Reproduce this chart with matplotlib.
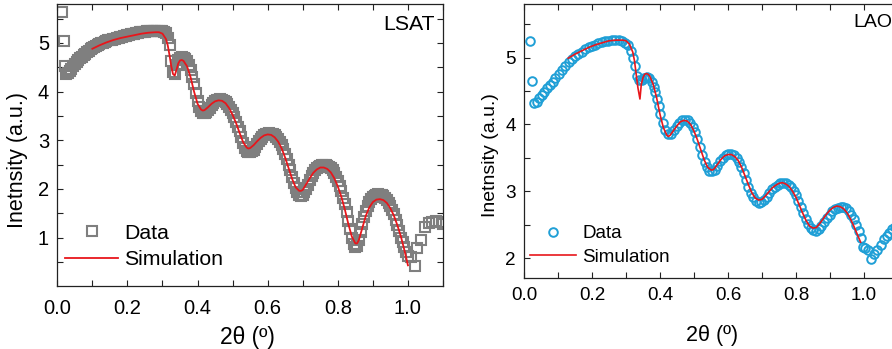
import numpy as np
import matplotlib
matplotlib.use("Agg")
import matplotlib.pyplot as plt
from matplotlib.ticker import MultipleLocator, FormatStrFormatter

plt.rcParams['font.family'] = ['Liberation Sans', 'DejaVu Sans']

# ---------------- LSAT (left) ----------------
lsat_head_x = [0.012, 0.018, 0.022, 0.026]
lsat_head_y = [5.64, 5.03, 4.52, 4.36]
lsat_grid_x = np.round(np.arange(0.03, 1.0025, 0.005), 3)   # measurement grid 0.030 ... 1.000
lsat_grid_y = [4.38, 4.42, 4.47, 4.52, 4.57, 4.61, 4.65, 4.69, 4.72, 4.75,
               4.78, 4.81, 4.84, 4.87, 4.89, 4.91, 4.93, 4.95, 4.97, 4.99,
               5.00, 5.02, 5.03, 5.05, 5.06, 5.07, 5.08, 5.09, 5.10, 5.11,
               5.12, 5.13, 5.14, 5.15, 5.16, 5.17, 5.18, 5.185, 5.19, 5.20,
               5.21, 5.215, 5.22, 5.225, 5.23, 5.235, 5.24, 5.245, 5.25, 5.25,
               5.25, 5.25, 5.25, 5.245, 5.24, 5.225, 5.20,
               5.10, 4.95, 4.62, 4.40, 4.36, 4.55, 4.65, 4.70, 4.71, 4.70,
               4.67, 4.62, 4.55, 4.45, 4.31, 4.15, 3.97, 3.80, 3.68, 3.60,
               3.56, 3.55, 3.58, 3.62, 3.67, 3.72, 3.76, 3.80, 3.82, 3.83,
               3.84, 3.83, 3.81, 3.78, 3.74, 3.68, 3.62, 3.55, 3.47, 3.38,
               3.28, 3.18, 3.06, 2.95, 2.85, 2.78, 2.75, 2.75, 2.77, 2.80,
               2.86, 2.92, 2.98, 3.03, 3.07, 3.10, 3.12, 3.13, 3.14, 3.13,
               3.12, 3.10, 3.07, 3.03, 2.97, 2.90, 2.82, 2.72, 2.61, 2.50,
               2.38, 2.25, 2.13, 2.02, 1.94, 1.88, 1.86, 1.88, 1.93, 2.00,
               2.09, 2.18, 2.26, 2.32, 2.38, 2.43, 2.46, 2.48, 2.50, 2.50,
               2.50, 2.48, 2.46, 2.43, 2.38, 2.32, 2.25, 2.16, 2.06, 1.95,
               1.82, 1.68, 1.52, 1.35, 1.17, 1.00, 0.86, 0.80, 0.82, 0.95,
               1.12, 1.28, 1.43, 1.55, 1.65, 1.73, 1.79, 1.83, 1.86, 1.88,
               1.89, 1.88, 1.87, 1.85, 1.82, 1.78, 1.72, 1.65, 1.57, 1.48,
               1.37, 1.25, 1.13, 1.00, 0.90, 0.80, 0.70, 0.62]
lsat_tail_x = [1.01, 1.02, 1.027, 1.036, 1.05, 1.06, 1.07, 1.08, 1.09, 1.10]
lsat_tail_y = [0.60, 0.42, 0.78, 0.96, 1.22, 1.30, 1.33, 1.35, 1.33, 1.28]

lsat_sim_x = [0.10, 0.12, 0.14, 0.16, 0.18, 0.20, 0.22, 0.24, 0.26, 0.28, 0.29, 0.30,
              0.31, 0.315, 0.32, 0.325, 0.33, 0.335, 0.34, 0.345, 0.35, 0.355, 0.36, 0.37,
              0.38, 0.39, 0.40, 0.41, 0.415, 0.42, 0.43, 0.44, 0.45, 0.46, 0.47, 0.48,
              0.49, 0.50, 0.51, 0.52, 0.53, 0.54, 0.545, 0.55, 0.56, 0.57, 0.58, 0.59,
              0.60, 0.61, 0.62, 0.63, 0.64, 0.65, 0.66, 0.67, 0.68, 0.69, 0.695, 0.70,
              0.71, 0.72, 0.73, 0.74, 0.75, 0.76, 0.77, 0.78, 0.79, 0.80, 0.81, 0.82,
              0.83, 0.84, 0.85, 0.855, 0.86, 0.87, 0.88, 0.89, 0.90, 0.91, 0.92, 0.93,
              0.94, 0.95, 0.96, 0.97, 0.98, 0.99, 1.00]
lsat_sim_y = [4.88, 4.95, 5.01, 5.06, 5.10, 5.13, 5.16, 5.19, 5.21, 5.22, 5.22, 5.19,
              5.08, 4.95, 4.75, 4.52, 4.36, 4.33, 4.45, 4.58, 4.64, 4.65, 4.63, 4.52,
              4.30, 4.00, 3.75, 3.63, 3.61, 3.62, 3.68, 3.75, 3.80, 3.82, 3.81, 3.76,
              3.66, 3.52, 3.35, 3.15, 2.96, 2.85, 2.83, 2.84, 2.90, 2.98, 3.05, 3.10,
              3.12, 3.11, 3.06, 2.97, 2.83, 2.64, 2.42, 2.20, 2.03, 1.96, 1.96, 1.98,
              2.10, 2.22, 2.33, 2.40, 2.44, 2.44, 2.41, 2.34, 2.22, 2.05, 1.84, 1.58,
              1.28, 1.02, 0.88, 0.88, 0.95, 1.20, 1.45, 1.62, 1.73, 1.78, 1.79, 1.77,
              1.71, 1.60, 1.45, 1.25, 1.02, 0.74, 0.43]

# ---------------- LAO (right) ----------------
lao_x = [0.018, 0.023, 0.029, 0.037, 0.044, 0.052, 0.059, 0.067, 0.075, 0.084, 0.092,
         0.102, 0.111, 0.121, 0.131, 0.141, 0.151, 0.160, 0.170, 0.180, 0.190, 0.200,
         0.209, 0.219, 0.229, 0.239, 0.248, 0.258, 0.268, 0.278, 0.288, 0.298, 0.307,
         0.314, 0.320, 0.326, 0.331, 0.339, 0.346, 0.354, 0.361, 0.368, 0.375, 0.381,
         0.386, 0.391, 0.396, 0.401, 0.408, 0.415, 0.424, 0.433, 0.441, 0.449, 0.457,
         0.465, 0.473, 0.481, 0.489, 0.496, 0.503, 0.510, 0.517, 0.524, 0.531, 0.538,
         0.545, 0.553, 0.561, 0.569, 0.577, 0.585, 0.593, 0.601, 0.609, 0.617, 0.625,
         0.632, 0.639, 0.646, 0.653, 0.660, 0.667, 0.674, 0.682, 0.690, 0.698, 0.706,
         0.714, 0.722, 0.730, 0.738, 0.746, 0.754, 0.762, 0.770, 0.778, 0.786, 0.793,
         0.800, 0.807, 0.814, 0.821, 0.828, 0.835, 0.843, 0.851, 0.859, 0.867, 0.875,
         0.883, 0.891, 0.899, 0.907, 0.915, 0.923, 0.931, 0.939, 0.947, 0.955, 0.963,
         0.970, 0.977, 0.984, 0.990, 0.997, 1.004, 1.011, 1.022, 1.030, 1.039, 1.049,
         1.058, 1.067, 1.075, 1.083, 1.090]
lao_y = [5.24, 4.65, 4.32, 4.34, 4.39, 4.44, 4.49, 4.54, 4.59, 4.64, 4.69,
         4.75, 4.82, 4.88, 4.93, 4.98, 5.02, 5.06, 5.09, 5.12, 5.15, 5.17,
         5.19, 5.21, 5.23, 5.24, 5.25, 5.26, 5.26, 5.26, 5.25, 5.22, 5.18,
         5.10, 5.00, 4.88, 4.73, 4.67, 4.67, 4.70, 4.71, 4.69, 4.64, 4.56,
         4.48, 4.38, 4.27, 4.15, 4.02, 3.91, 3.85, 3.86, 3.91, 3.97, 4.02,
         4.06, 4.07, 4.06, 4.02, 3.96, 3.88, 3.78, 3.67, 3.55, 3.44, 3.36,
         3.31, 3.30, 3.32, 3.38, 3.45, 3.50, 3.54, 3.56, 3.56, 3.54, 3.50,
         3.44, 3.36, 3.27, 3.17, 3.07, 2.98, 2.91, 2.85, 2.83, 2.84, 2.87,
         2.92, 2.98, 3.03, 3.07, 3.10, 3.12, 3.13, 3.12, 3.10, 3.06, 3.01,
         2.94, 2.86, 2.77, 2.68, 2.59, 2.51, 2.45, 2.42, 2.41, 2.43, 2.48,
         2.54, 2.60, 2.65, 2.70, 2.73, 2.75, 2.77, 2.77, 2.75, 2.71, 2.65,
         2.58, 2.50, 2.40, 2.30, 2.17, 2.15, 2.13, 1.99, 2.07, 2.13, 2.20,
         2.29, 2.33, 2.38, 2.43, 2.46]

lao_sim_x = [0.13, 0.15, 0.17, 0.19, 0.21, 0.23, 0.25, 0.27, 0.29, 0.30, 0.31, 0.32,
             0.325, 0.33, 0.335, 0.341, 0.345, 0.35, 0.355, 0.36, 0.365, 0.37, 0.38,
             0.39, 0.40, 0.41, 0.42, 0.425, 0.43, 0.44, 0.45, 0.46, 0.47, 0.48, 0.49,
             0.50, 0.51, 0.52, 0.53, 0.54, 0.55, 0.555, 0.56, 0.57, 0.58, 0.59, 0.60,
             0.61, 0.62, 0.63, 0.64, 0.65, 0.66, 0.67, 0.68, 0.69, 0.70, 0.71, 0.72,
             0.73, 0.74, 0.75, 0.76, 0.77, 0.78, 0.79, 0.80, 0.81, 0.82, 0.83, 0.84,
             0.85, 0.86, 0.87, 0.88, 0.89, 0.90, 0.91, 0.92, 0.93, 0.94, 0.95, 0.96,
             0.97, 0.98, 0.99]
lao_sim_y = [4.99, 5.05, 5.10, 5.15, 5.19, 5.22, 5.25, 5.26, 5.26, 5.25, 5.20, 5.08,
             4.95, 4.75, 4.55, 4.38, 4.60, 4.70, 4.75, 4.76, 4.75, 4.72, 4.60,
             4.40, 4.15, 3.95, 3.84, 3.82, 3.84, 3.91, 3.98, 4.04, 4.06, 4.05, 4.00,
             3.90, 3.77, 3.62, 3.47, 3.36, 3.32, 3.32, 3.34, 3.41, 3.48, 3.53, 3.55,
             3.55, 3.52, 3.46, 3.36, 3.23, 3.10, 2.98, 2.90, 2.87, 2.88, 2.93, 2.99,
             3.05, 3.09, 3.12, 3.13, 3.11, 3.07, 3.00, 2.91, 2.79, 2.67, 2.56, 2.48,
             2.45, 2.46, 2.52, 2.59, 2.66, 2.72, 2.76, 2.78, 2.77, 2.74, 2.68, 2.59,
             2.48, 2.36, 2.24]

labels = ["Data", "Simulation"]
x_label = "2θ (º)"
y_label = "Inetnsity (a.u.)"

lsat_x = np.concatenate([lsat_head_x, lsat_grid_x, lsat_tail_x])
lsat_y = np.concatenate([lsat_head_y, lsat_grid_y, lsat_tail_y])

GRAY = '#7f7f7f'
BLUE = '#1f9fd6'
RED = '#e8161b'

fig = plt.figure(figsize=(8.92, 3.49), dpi=100)
W, H = 892.0, 349.0
ax1 = fig.add_axes([57.3 / W, 1 - 286 / H, (443 - 57.3) / W, (286 - 4) / H])
ax2 = fig.add_axes([524 / W, 1 - 278.3 / H, 374 / W, (278.3 - 4) / H])


def style(ax, tick_fs, pad):
    for s in ax.spines.values():
        s.set_linewidth(0.9)
        s.set_color('#222222')
    ax.set_xlim(0, 1.1)
    ax.xaxis.set_major_locator(MultipleLocator(0.2))
    ax.xaxis.set_minor_locator(MultipleLocator(0.1))
    ax.yaxis.set_major_locator(MultipleLocator(1))
    ax.yaxis.set_minor_locator(MultipleLocator(0.5))
    ax.tick_params(which='both', direction='in', top=True, right=True,
                   length=4, width=0.8, color='#222222')
    ax.tick_params(which='major', labelsize=tick_fs, pad=6)
    ax.tick_params(axis='x', which='major', pad=pad)
    ax.xaxis.set_major_formatter(FormatStrFormatter('%.1f'))
    ax.yaxis.set_major_formatter(FormatStrFormatter('%d'))


# left
ax1.plot(lsat_x, lsat_y, linestyle='none', marker='s', markersize=6.5,
         markerfacecolor='none', markeredgecolor=GRAY, markeredgewidth=1.5, label=labels[0])
ax1.plot(lsat_sim_x, lsat_sim_y, color=RED, lw=1.3, label=labels[1])
style(ax1, 14.5, 9)
ax1.set_ylim(0.005, 5.8)
ax1.set_xlabel(x_label, fontsize=16.5)
ax1.set_ylabel(y_label, fontsize=15.5)
ax1.xaxis.set_label_coords(0.492, -0.143)
ax1.yaxis.set_label_coords(-0.076, 0.447)
ax1.text(0.979, 0.928, "LSAT", transform=ax1.transAxes, ha='right', va='center', fontsize=15.3)
ax1.legend(loc='lower left', bbox_to_anchor=(0.02, 0.06), frameon=False, fontsize=15.3,
           handlelength=2.5, handletextpad=0.3, labelspacing=0.35, borderpad=0,
           borderaxespad=0)

# right
ax2.plot(lao_x, lao_y, linestyle='none', marker='o', markersize=6.2,
         markerfacecolor='none', markeredgecolor=BLUE, markeredgewidth=1.4, label=labels[0])
ax2.plot(lao_sim_x, lao_sim_y, color=RED, lw=1.2, label=labels[1])
style(ax2, 13.6, 6)
ax2.set_ylim(1.7, 5.8)
ax2.set_xlabel(x_label, fontsize=15.5)
ax2.set_ylabel(y_label, fontsize=14)
ax2.xaxis.set_label_coords(0.502, -0.172)
ax2.yaxis.set_label_coords(-0.067, 0.45)
ax2.text(0.88, 0.931, "LAO", transform=ax2.transAxes, ha='left', va='center', fontsize=14)
ax2.legend(loc='lower left', bbox_to_anchor=(0.017, 0.045), frameon=False, fontsize=13.6,
           handlelength=2.4, handletextpad=0.35, labelspacing=0.35, borderpad=0,
           borderaxespad=0)

fig.savefig('out.png', dpi=100)
